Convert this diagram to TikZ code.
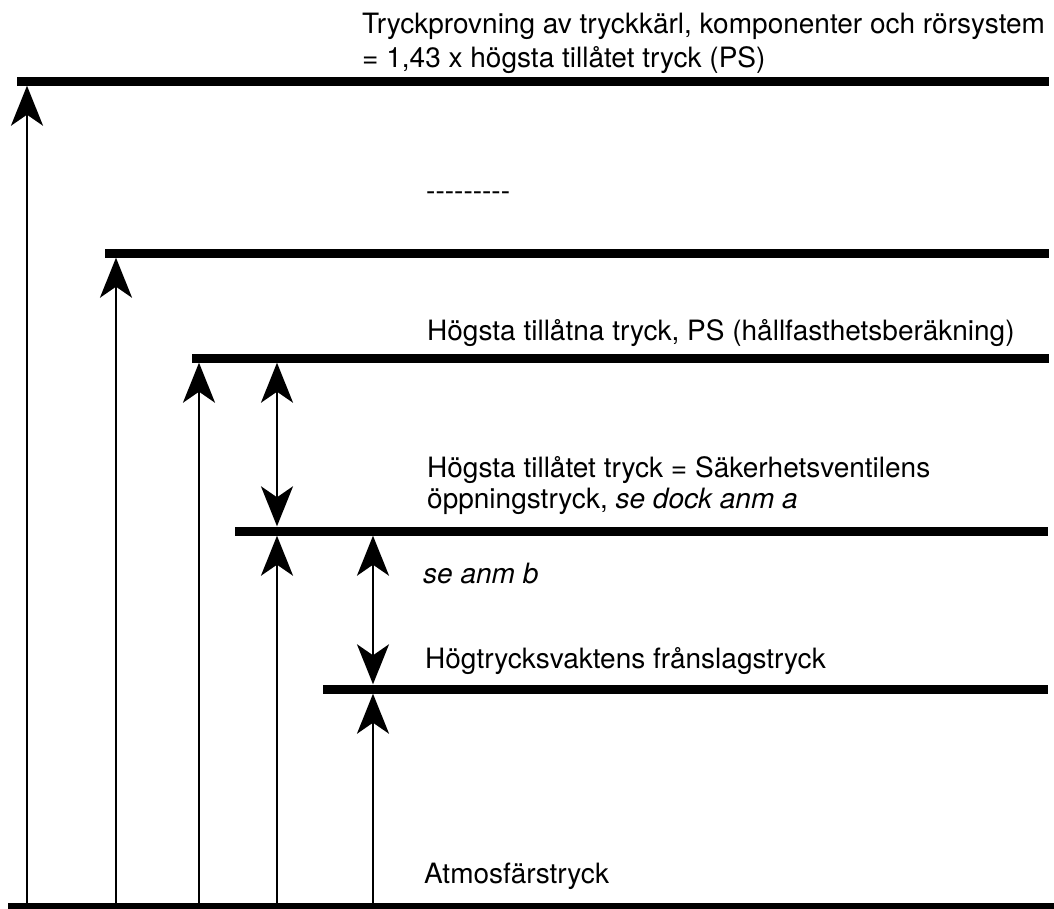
\documentclass[tikz,border=0pt]{standalone}
\usepackage{fontspec}
\setmainfont{TeX Gyre Heros}
\usetikzlibrary{arrows.meta,positioning}

\newcommand{\streck}{-{}-{}-{}-{}-{}-{}-{}-{}-}

\begin{document}
\begin{tikzpicture}[x=1pt,y=-1pt]
\tikzstyle{level} = [rectangle, fill=black, inner sep=0pt, minimum height=9pt, anchor=west]
\tikzstyle{txt} = [inner sep=0pt, anchor=base west, font=\fontsize{28}{32}\selectfont]
\tikzstyle{line} = [draw, line width=2.3pt, -{Stealth[length=40pt,width=32pt,inset=11pt]}]
\tikzstyle{dline} = [line, {Stealth[length=40pt,width=32pt,inset=11pt]}-{Stealth[length=40pt,width=32pt,inset=11pt]}]

\useasboundingbox (0,0) rectangle (1054,908);

% pressure levels
\node [level, minimum width=1032pt] (prov) at (17,81) {};
\node [level, minimum width=944pt] (mid) at (105,253) {};
\node [level, minimum width=857pt] (ps) at (192,358) {};
\node [level, minimum width=813pt] (setp) at (235,531) {};
\node [level, minimum width=725pt] (hpc) at (323,689) {};
\node [level, minimum width=1046pt] (atm) at (8,907) {};

% texts
\node [txt] (provtxt) at (362,33) {Tryckprovning av tryckkärl, komponenter och rörsystem};
\node [txt] (provtxt2) at (362,67) {= 1,43 x högsta tillåtet tryck (PS)};
\node [txt] (dots) at (426,200) {\streck};
\node [txt] (pstxt) at (427,340) {Högsta tillåtna tryck, PS (hållfasthetsberäkning)};
\node [txt] (settxt) at (427,477) {Högsta tillåtet tryck = Säkerhetsventilens};
\node [txt] (settxt2) at (427,508) {öppningstryck, \textit{se dock anm a}};
\node [txt] (anmb) at (423,583) {\textit{se anm b}};
\node [txt] (hpctxt) at (425,668) {Högtrycksvaktens frånslagstryck};
\node [txt] (atmtxt) at (424,883) {Atmosfärstryck};

% feet of the arrows
\foreach \n/\x in {f1/27, f2/116, f3/199, f4/277, f5/373}
  \coordinate (\n) at (\x,903);

\path [line] (f1) -- (f1 |- prov.south);
\path [line] (f2) -- (f2 |- mid.south);
\path [line] (f3) -- (f3 |- ps.south);
\path [line] (f4) -- (f4 |- setp.south);
\path [line] (f5) -- (f5 |- hpc.south);

\path [dline] (f4 |- ps.south) -- (f4 |- setp.north);
\path [dline] (f5 |- setp.south) -- (f5 |- hpc.north);

\end{tikzpicture}
\end{document}
